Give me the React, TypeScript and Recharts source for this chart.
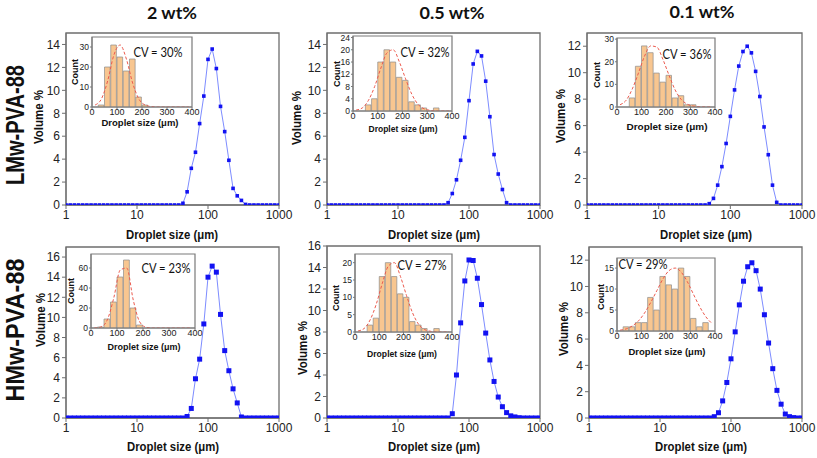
import React from 'react';
import { LineChart, ComposedChart, Line, Bar, XAxis, YAxis, ReferenceArea } from 'recharts';

// droplet size classes (µm), shared by all six distributions
const sizes = [
  1, 1.145, 1.311, 1.501, 1.719, 1.968, 2.254, 2.581, 2.955, 3.384, 3.875, 4.437, 5.08, 5.817, 6.661, 7.627, 8.733,
  10, 11.45, 13.11, 15.01, 17.19, 19.68, 22.54, 25.81, 29.55, 33.84, 38.75, 44.37, 50.8, 58.17, 66.61, 76.27, 87.33,
  100, 114.5, 131.1, 150.1, 171.9, 196.8, 225.4, 258.1, 295.5, 338.4, 387.5, 443.7, 508, 581.7, 666.1, 762.7, 873.3,
  1000,
];

// volume % per size class
const volLmw2 = [
  0, 0, 0, 0, 0, 0, 0, 0, 0, 0, 0, 0, 0, 0, 0, 0, 0,
  0, 0, 0, 0, 0, 0, 0, 0, 0, 0, 0,
  0.15, 1.15, 3.2, 4.6, 7.1, 9.5, 12.7, 13.6, 11.9, 8.6, 6.4, 3.9, 1.45, 0.8, 0.4, 0.05,
  0, 0, 0, 0, 0, 0, 0, 0,
];
const volLmw05 = [
  0, 0, 0, 0, 0, 0, 0, 0, 0, 0, 0, 0, 0, 0, 0, 0, 0,
  0, 0, 0, 0, 0, 0, 0, 0, 0, 0, 0, 0,
  0.2, 1.0, 2.2, 3.9, 5.9, 9.1, 12.3, 13.4, 13.0, 10.8, 7.7, 4.4, 2.7, 1.35, 0.2,
  0, 0, 0, 0, 0, 0, 0, 0,
];
const volLmw01 = [
  0, 0, 0, 0, 0, 0, 0, 0, 0, 0, 0, 0, 0, 0, 0, 0, 0,
  0, 0, 0, 0, 0, 0, 0, 0, 0, 0, 0, 0,
  0.1, 0.5, 1.5, 2.9, 4.65, 6.7, 8.7, 10.5, 11.6, 12.0, 11.5, 10.1, 8.2, 5.9, 3.8, 1.5, 0.2,
  0, 0, 0, 0, 0, 0,
];
const volHmw2 = [
  0, 0, 0, 0, 0, 0, 0, 0, 0, 0, 0, 0, 0, 0, 0, 0, 0,
  0, 0, 0, 0, 0, 0, 0, 0, 0, 0, 0, 0,
  0.15, 0.95, 3.9, 5.85, 9.35, 14.0, 15.1, 14.5, 10.3, 6.7, 4.7, 2.9, 1.5, 0.1,
  0, 0, 0, 0, 0, 0, 0, 0, 0,
];
const volHmw05 = [
  0, 0, 0, 0, 0, 0, 0, 0, 0, 0, 0, 0, 0, 0, 0, 0, 0,
  0, 0, 0, 0, 0, 0, 0, 0, 0, 0, 0, 0, 0,
  0.4, 4.0, 8.85, 12.75, 14.7, 14.65, 13.0, 10.55, 7.9, 5.4, 3.4, 1.95, 1.05, 0.5, 0.2, 0.1, 0.03,
  0, 0, 0, 0, 0,
];
const volHmw01 = [
  0, 0, 0, 0, 0, 0, 0, 0, 0, 0, 0, 0, 0, 0, 0, 0, 0,
  0, 0, 0, 0, 0, 0, 0, 0, 0, 0, 0, 0, 0,
  0.1, 0.4, 1.3, 2.7, 4.5, 6.55, 8.6, 10.4, 11.5, 11.8, 11.2, 9.8, 7.85, 5.7, 3.75, 2.1, 1.05, 0.3, 0.1, 0.03,
  0, 0,
];

// histogram bins (centres, µm) for the insets
const binCenters = [12.5, 37.5, 62.5, 87.5, 112.5, 137.5, 162.5, 187.5, 212.5, 237.5, 262.5, 287.5, 312.5, 337.5, 362.5, 387.5];

const countLmw2 = [0, 1, 20, 31, 25, 18, 24, 5, 1, 0, 0, 0, 0, 0, 0, 0];
const fitLmw2 = [1, 4, 13, 26, 31, 24, 12, 4, 1, 0.2, 0, 0, 0, 0, 0, 0];
const countLmw05 = [0, 0, 2, 4, 16, 20, 16, 11, 10, 3, 2, 1, 0, 1, 0, 0];
const fitLmw05 = [0.3, 1, 3.5, 8, 14, 19, 20, 16, 10.5, 5.5, 2.2, 0.7, 0.2, 0, 0, 0];
const countLmw01 = [0, 0, 4, 18, 27, 24, 15, 11, 14, 4, 5, 1, 1, 0, 0, 0];
const fitLmw01 = [1, 3, 8, 15, 22.5, 27, 26.5, 21, 14, 7.5, 3.3, 1.2, 0.4, 0.1, 0, 0];
const countHmw2 = [0, 1, 9, 26, 51, 68, 20, 3, 0, 0, 0, 0, 0, 0, 0, 0];
const fitHmw2 = [0, 1, 8, 30, 58, 60, 28, 6, 0.7, 0, 0, 0, 0, 0, 0, 0];
const countHmw05 = [0, 0, 2, 4, 16, 20, 16, 11, 10, 3, 2, 1, 0, 1, 0, 0];
const fitHmw05 = [0.3, 1, 3.5, 8, 14, 19, 20, 16, 10.5, 5.5, 2.2, 0.7, 0.2, 0, 0, 0];
const countHmw01 = [0, 1, 1, 2, 2, 8, 5, 13, 11, 10, 15, 13, 3, 1, 2, 0];
const fitHmw01 = [0.2, 0.5, 1.2, 2.4, 4.3, 6.8, 9.6, 12.4, 14.4, 15, 14, 11.7, 8.7, 5.8, 3.4, 1.8];

const SANS = '"Liberation Sans", Arial, sans-serif';
const HUMAN = 'Lato, "Open Sans", sans-serif';

const panels = [
  { left: 66, top: 33, w: 213, h: 172, yMax: 15, yTicks: [0, 2, 4, 6, 8, 10, 12, 14], vol: volLmw2, mk: 3.6,
    inset: { left: 92, top: 37, w: 100, h: 70, yMax: 35, yTicks: [0, 10, 20, 30], counts: countLmw2, fit: fitLmw2 } },
  { left: 327, top: 33, w: 213, h: 172, yMax: 15, yTicks: [0, 2, 4, 6, 8, 10, 12, 14], vol: volLmw05, mk: 3.6,
    inset: { left: 353, top: 36, w: 99, h: 75, yMax: 24.5, yTicks: [0, 4, 8, 12, 16, 20, 24], counts: countLmw05, fit: fitLmw05 } },
  { left: 587, top: 33, w: 215, h: 172, yMax: 13, yTicks: [0, 2, 4, 6, 8, 10, 12], vol: volLmw01, mk: 3.6,
    inset: { left: 617, top: 38, w: 98, h: 69, yMax: 30.5, yTicks: [0, 10, 20, 30], counts: countLmw01, fit: fitLmw01 } },
  { left: 66, top: 247, w: 213, h: 171, yMax: 17, yTicks: [0, 2, 4, 6, 8, 10, 12, 14, 16], vol: volHmw2, mk: 5,
    inset: { left: 91, top: 254, w: 104, h: 74, yMax: 74, yTicks: [0, 20, 40, 60], counts: countHmw2, fit: fitHmw2 } },
  { left: 327, top: 246, w: 213, h: 172, yMax: 16, yTicks: [0, 2, 4, 6, 8, 10, 12, 14, 16], vol: volHmw05, mk: 5,
    inset: { left: 355, top: 254, w: 97, h: 78, yMax: 22.5, yTicks: [0, 5, 10, 15, 20], counts: countHmw05, fit: fitHmw05 } },
  { left: 589, top: 247, w: 213, h: 171, yMax: 13, yTicks: [0, 2, 4, 6, 8, 10, 12], vol: volHmw01, mk: 5,
    inset: { left: 617, top: 258, w: 98, h: 73, yMax: 17.4, yTicks: [0, 5, 10, 15], counts: countHmw01, fit: fitHmw01 } },
];

const squareDot = (size: number) => (props: any) => {
  const { cx, cy, index } = props;
  if (cx == null || cy == null) return <g key={index} />;
  return <rect key={index} x={cx - size / 2} y={cy - size / 2} width={size} height={size} fill="#1212f2" />;
};

function MainPlot({ p }: { p: any }) {
  const YW = 34, RM = 16, TM = 8, XH = 22;
  const data = sizes.map((s, i) => ({ size: s, vol: p.vol[i] }));
  return (
    <div style={{ position: 'absolute', left: p.left - YW, top: p.top - TM }}>
      <LineChart width={p.w + YW + RM} height={p.h + TM + XH} data={data} margin={{ top: TM, right: RM, bottom: 0, left: 0 }}>
        <XAxis dataKey="size" type="number" scale="log" domain={[1, 1000]} ticks={[1, 10, 100, 1000]} interval={0}
          allowDataOverflow height={XH} tickSize={4} tickMargin={1} stroke="#6e6e6e"
          tick={{ fontSize: 12, fill: '#222', fontFamily: SANS }} />
        <YAxis type="number" domain={[0, p.yMax]} ticks={p.yTicks} interval={0} allowDataOverflow width={YW}
          tickSize={4} tickMargin={2} stroke="#6e6e6e" tick={{ fontSize: 12, fill: '#222', fontFamily: SANS }} />
        <ReferenceArea x1={1} x2={1000} y1={0} y2={p.yMax} fill="none" stroke="#6e6e6e" strokeWidth={1.3} ifOverflow="visible" />
        <Line dataKey="vol" type="linear" stroke="#7d8cff" strokeWidth={1} dot={squareDot(p.mk)} isAnimationActive={false} />
      </LineChart>
    </div>
  );
}

function Inset({ c }: { c: any }) {
  const YW = 18, RM = 8, TM = 5, XH = 13;
  const data = binCenters.map((x, i) => ({ x, count: c.counts[i], fit: c.fit[i] }));
  return (
    <div style={{ position: 'absolute', left: c.left - YW, top: c.top - TM }}>
      <ComposedChart width={c.w + YW + RM} height={c.h + TM + XH} data={data} margin={{ top: TM, right: RM, bottom: 0, left: 0 }}>
        <XAxis dataKey="x" type="number" domain={[0, 400]} ticks={[0, 100, 200, 300, 400]} interval={0} height={XH}
          tickSize={2} tickMargin={0} stroke="#7a7a7a" tick={{ fontSize: 9, fill: '#222', fontFamily: SANS }} />
        <YAxis type="number" domain={[0, c.yMax]} ticks={c.yTicks} interval={0} width={YW} allowDataOverflow
          tickSize={2} tickMargin={1} stroke="#7a7a7a" tick={{ fontSize: 8.5, fill: '#222', fontFamily: SANS }} />
        <ReferenceArea x1={0} x2={400} y1={0} y2={c.yMax} fill="none" stroke="#7a7a7a" strokeWidth={1.2} ifOverflow="visible" />
        <Bar dataKey="count" fill="#f8c690" stroke="#8c8c8c" strokeWidth={0.7} barSize={(c.w * 25) / 400} isAnimationActive={false} />
        <Line dataKey="fit" type="monotone" stroke="#ec5a4e" strokeWidth={1} strokeDasharray="3 2" dot={false} isAnimationActive={false} />
      </ComposedChart>
    </div>
  );
}

const colTitles = [
  { t: '2 wt%', x: 172, y: 12, len: 50 },
  { t: '0.5 wt%', x: 452, y: 12, len: 65 },
  { t: '0.1 wt%', x: 702, y: 11, len: 65 },
];
const rowTitles = [
  { t: 'LMw-PVA-88', x: 15, y: 125, len: 120 },
  { t: 'HMw-PVA-88', x: 15, y: 330, len: 143 },
];
const volLabels = [[39, 117], [297, 118], [561, 116], [41, 320], [303, 348], [564, 329]];
const sizeLabels = [[172, 235], [434, 235], [706, 235], [173, 447], [434, 447], [701, 447]];
const countLabels = [[75, 72], [337, 74], [597, 75], [71, 291], [336, 298], [601, 297]];
const insetTitles = [[140, 122, 77], [403, 128, 69], [667, 126, 81], [144, 346, 73], [402, 353, 70], [667, 351, 77]];
const cvLabels = [
  { t: 'CV = 30%', x: 158, y: 52 },
  { t: 'CV = 32%', x: 425, y: 52 },
  { t: 'CV = 36%', x: 687, y: 54 },
  { t: 'CV = 23%', x: 166, y: 268 },
  { t: 'CV = 27%', x: 422, y: 265 },
  { t: 'CV = 29%', x: 643, y: 264 },
];

function Overlay() {
  return (
    <svg width={817} height={458} style={{ position: 'absolute', left: 0, top: 0, pointerEvents: 'none' }}>
      {colTitles.map((c) => (
        <text key={c.t} x={c.x} y={c.y} textAnchor="middle" dominantBaseline="central" fontFamily={HUMAN}
          fontWeight="bold" fontSize={17} textLength={c.len} lengthAdjust="spacingAndGlyphs" fill="#111">{c.t}</text>
      ))}
      {rowTitles.map((r) => (
        <text key={r.t} x={r.x} y={r.y} transform={`rotate(-90 ${r.x} ${r.y})`} textAnchor="middle" dominantBaseline="central"
          fontFamily={SANS} fontWeight="bold" fontSize={25} textLength={r.len} lengthAdjust="spacingAndGlyphs" fill="#111">{r.t}</text>
      ))}
      {volLabels.map(([x, y], i) => (
        <text key={'v' + i} x={x} y={y} transform={`rotate(-90 ${x} ${y})`} textAnchor="middle" dominantBaseline="central"
          fontFamily={SANS} fontWeight="bold" fontSize={12.5} textLength={54} lengthAdjust="spacingAndGlyphs" fill="#111">Volume %</text>
      ))}
      {sizeLabels.map(([x, y], i) => (
        <text key={'s' + i} x={x} y={y} textAnchor="middle" dominantBaseline="central" fontFamily={SANS} fontWeight="bold"
          fontSize={12} textLength={92} lengthAdjust="spacingAndGlyphs" fill="#111">Droplet size (μm)</text>
      ))}
      {countLabels.map(([x, y], i) => (
        <text key={'c' + i} x={x} y={y} transform={`rotate(-90 ${x} ${y})`} textAnchor="middle" dominantBaseline="central"
          fontFamily={SANS} fontWeight="bold" fontSize={9} fill="#111">Count</text>
      ))}
      {insetTitles.map(([x, y, len], i) => (
        <text key={'t' + i} x={x} y={y} textAnchor="middle" dominantBaseline="central" fontFamily={SANS} fontWeight="bold"
          fontSize={9.5} textLength={len} lengthAdjust="spacingAndGlyphs" fill="#111">Droplet size (μm)</text>
      ))}
      {cvLabels.map((c) => (
        <text key={c.t} x={c.x} y={c.y} textAnchor="middle" dominantBaseline="central" fontFamily={HUMAN}
          fontSize={13} textLength={49} lengthAdjust="spacingAndGlyphs" fill="#111">{c.t}</text>
      ))}
    </svg>
  );
}

export default function App() {
  return (
    <div style={{ position: 'absolute', left: 0, top: 0, width: 817, height: 458, background: '#fff', overflow: 'hidden' }}>
      {panels.map((p, i) => (
        <MainPlot key={'m' + i} p={p} />
      ))}
      {panels.map((p, i) => (
        <Inset key={'i' + i} c={p.inset} />
      ))}
      <Overlay />
    </div>
  );
}
